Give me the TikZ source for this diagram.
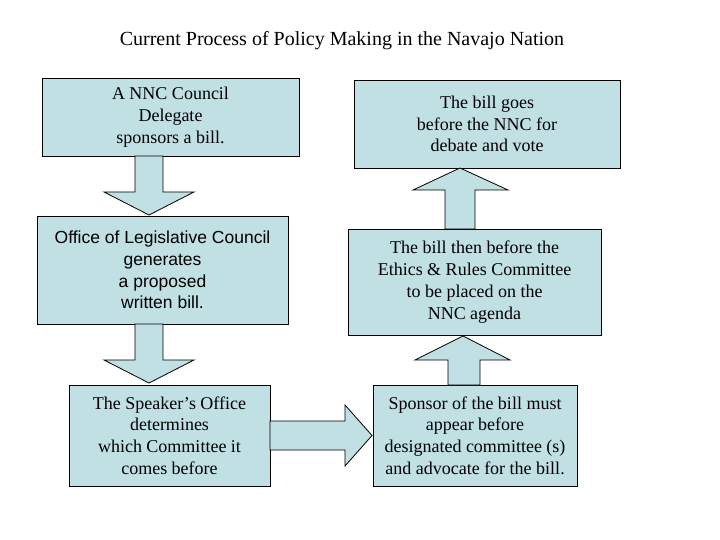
\documentclass[tikz,border=0pt]{standalone}
\usepackage{fontspec}
\setmainfont{Liberation Serif}
\newfontfamily\arialf{Liberation Sans}
\usetikzlibrary{calc}
\definecolor{boxblue}{HTML}{C0E0E4}
\tikzset{
  box/.style={draw=black, fill=boxblue, line width=0.8pt, align=center, font=\fontsize{18}{21.8}\selectfont, inner sep=0pt},
  barrow/.style={draw=black, fill=boxblue, line width=0.8pt}
}
\begin{document}
\begin{tikzpicture}[x=1pt,y=-1pt]
\useasboundingbox (0,0) rectangle (720,540);
\node (title) at (342,41) {\fontsize{20}{24}\selectfont Current Process of Policy Making in the Navajo Nation};
\draw[box] (42,78) rectangle (299,156) node[midway, box, draw=none] (b1) {A NNC Council\\Delegate\\sponsors a bill.};
\draw[box] (37,216) rectangle (288,324) node[midway, box, draw=none, font=\arialf\fontsize{17.5}{21.8}\selectfont] (b2) {Office of Legislative Council\\generates\\a proposed\\written bill.};
\draw[box] (69,385) rectangle (270,486) node[midway, box, draw=none] (b3) {The Speaker’s Office\\determines\\which Committee it\\comes before};
\draw[box] (354,80) rectangle (620,168) node[midway, box, draw=none] (b4) {The bill goes\\before the NNC for\\debate and vote};
\draw[box] (348,229) rectangle (601,335) node[midway, box, draw=none] (b5) {The bill then before the\\Ethics \& Rules Committee\\to be placed on the\\NNC agenda};
\draw[box] (373,385) rectangle (577,486) node[midway, box, draw=none] (b6) {Sponsor of the bill must\\appear before\\designated committee (s)\\and advocate for the bill.};
% down arrows
\draw[barrow] (135,156) -- (163,156) -- (163,192) -- (194,192) -- (149,215) -- (104,192) -- (135,192) -- cycle;
\draw[barrow] (135,324) -- (163,324) -- (163,360) -- (194,360) -- (149,383) -- (104,360) -- (135,360) -- cycle;
% right arrow
\draw[barrow] (270,421) -- (345,421) -- (345,405) -- (372,435.5) -- (345,466) -- (345,450) -- (270,450) -- cycle;
% up arrows
\draw[barrow] (448,385) -- (480,385) -- (480,360) -- (510,360) -- (463,336) -- (415,360) -- (448,360) -- cycle;
\draw[barrow] (445,229) -- (475,229) -- (475,190) -- (508,190) -- (460,168) -- (413,190) -- (445,190) -- cycle;
\end{tikzpicture}
\end{document}
